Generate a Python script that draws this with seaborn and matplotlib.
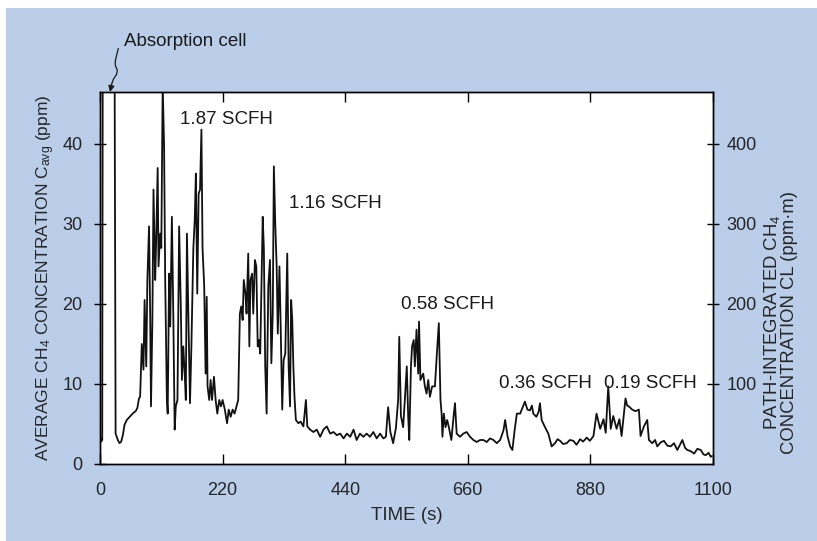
import numpy as np
import pandas as pd
import seaborn as sns
import matplotlib.pyplot as plt
from matplotlib.patches import Rectangle

# time (s) and average CH4 concentration (ppm)
time_s = [0, 2, 4, 5, 26, 28, 32, 35, 38, 41, 44, 48, 52, 56, 60, 64, 67, 70, 72,
          75, 78, 80, 83, 85, 88, 90, 91.5, 94, 96, 99, 100.5, 103.5, 105, 108, 110,
          112.5, 115, 117, 120, 121.5, 124, 126, 129, 131.5, 134, 136, 139, 142, 145,
          147, 149.5, 152, 154, 156, 158.5, 161.5, 164, 167.5, 170, 172, 174.5, 177,
          179.5, 182, 184, 187, 189.5, 191.5, 193, 196, 198.5, 201, 204.5, 207.5,
          210.5, 214, 217, 220, 224, 228, 231, 234.5, 238, 241.5, 245, 248, 251,
          253.5, 256, 258, 261, 263, 266, 268, 270, 273, 275, 278, 280.5, 283, 285,
          287.5, 290, 292, 294, 296.5, 299, 302, 305, 307.5, 310, 312, 314.5, 317,
          319, 322, 324, 327, 329.5, 332.5, 336, 338.5, 341, 343, 345, 347, 349,
          351.5, 356, 360, 365, 369.5, 372, 377, 383, 389, 395, 401, 407, 413, 419,
          425, 431, 437, 443, 449, 455, 460.5, 466.5, 472.5, 478.5, 484.5, 490.5,
          496.5, 502.5, 508.5, 513, 517, 521, 526, 531, 535, 537, 540, 544, 547,
          550.5, 553, 555, 558, 560, 563, 565, 568, 571, 572.5, 575, 580, 583, 586,
          589, 592, 596, 601, 604.5, 608, 611, 613, 614.5, 617, 620, 623, 626, 630.5,
          635, 637, 640, 646, 652, 658, 664, 670, 676, 682, 688, 694, 700, 706, 712,
          718, 724, 727, 731.5, 736, 740, 744, 748, 754, 758, 762.5, 767, 771.5, 775,
          777.5, 783, 787, 789.5, 792.5, 798.5, 804.5, 810.5, 816.5, 821, 825.5, 831,
          837.5, 843, 849.5, 855, 861.5, 867, 873.5, 879, 885.5, 891, 897.5, 903.5,
          907.5, 912, 916.5, 921, 927, 932, 936, 943, 946, 949, 955, 961, 967, 970,
          976, 982, 985, 991, 996, 1000, 1006, 1012, 1018, 1024, 1030, 1036, 1045,
          1050, 1054, 1060, 1066, 1072, 1078, 1083, 1087, 1092, 1096, 1098]
conc_ppm = [3.5, 2.8, 3.0, 55, 55, 3.8, 3.0, 2.6, 2.8, 3.6, 4.9, 5.5, 5.8, 6.1, 6.4, 6.6, 7.0, 8.2, 8.4,
            15, 11.8, 20.5, 12.2, 23, 29.7, 18.8, 7.2, 18, 34.3, 23, 27, 37, 24.7, 28.8, 27,
            47.5, 39.7, 23, 8, 6.3, 23.8, 17.2, 30.9, 18.8, 4.3, 7.2, 8, 29.7, 19.7,
            10.5, 14.7, 11.3, 8, 28.8, 18.8, 7.6, 14.7, 27, 30.5, 36.3, 21.3, 33.8,
            34.3, 41.8, 27, 22.2, 11.3, 20.9, 9.7, 8, 10.5, 8, 10.9, 8,
            6.3, 8, 7.2, 8, 6.8, 5.1, 6.8, 5.9, 6.8, 6.3, 7.2, 8, 18.8,
            19.7, 18, 23, 21.3, 18.8, 26.3, 14.7, 23, 23.8, 18.8, 25.5, 24.7, 14.7, 15.5,
            13.8, 23, 30.9, 27, 12.2, 6.3, 22.2, 25.5, 12.6, 18.8, 37.2, 30, 24.7,
            16.3, 24.7, 18, 6.8, 13, 13.8, 26.3, 12.2, 7.2, 20.5, 18, 12.2, 8.4,
            5.5, 5.1, 5.3, 4.7, 8, 4.7, 4.3, 4, 4.3, 3.4, 4.3, 4.7, 3.8, 4,
            3.6, 3.8, 3.2, 3.8, 3.4, 4.3, 3.0, 3.8, 3.4, 3.8, 3.4, 4,
            3.2, 3.8, 3.2, 3.4, 7.1, 4.0, 2.6, 4.5, 8, 15.9, 6, 4.6, 8,
            12.2, 6, 3, 12.2, 14.7, 15.5, 12.2, 16.8, 11.3, 17.8, 10.5, 11.3, 9.7, 8.8,
            10.5, 8.4, 9.7, 9.7, 13.8, 17.6, 8, 6.3, 3.4, 6.3, 4.6, 5.5, 4.6, 3,
            6.3, 7.6, 3.8, 3.4, 3.8, 4, 3.4, 3, 2.75, 3, 3, 2.75, 3.2, 3, 2.6,
            3, 4.2, 5.5, 3.4, 2.2, 1.75, 4.2, 6.3, 6.3, 7.0, 7.8, 6.8, 6.7, 7.3,
            6.3, 5.9, 6.5, 7.6, 5.5, 4.6, 3.8, 2.2, 2.6, 3.1, 2.9, 2.5,
            2.6, 3.0, 2.9, 2.4, 3.1, 2.8, 3.3, 2.9, 3.5, 6.3, 4.4, 5.6,
            3.9, 9.7, 4.4, 6, 4.4, 5.6, 3.5, 8.2, 7.3, 7.2, 6.8, 6.6, 6.8, 3.5,
            4.7, 5.5, 3, 2.6, 3.0, 2.2, 2.7, 2.9, 2.3, 2.2, 2.6, 1.75, 3,
            2.0, 1.75, 1.6, 1.3, 1.9, 1.75, 1.2, 1.1, 1.4, 0.9, 1.0]

leak_labels = ["1.87 SCFH", "1.16 SCFH", "0.58 SCFH", "0.36 SCFH", "0.19 SCFH"]
leak_label_t = [226, 423, 623, 799, 987]
leak_label_v = [43.1, 32.5, 19.9, 10.1, 10.1]

x_ticks = [0, 220, 440, 660, 880, 1100]
left_ticks = [0, 10, 20, 30, 40]
right_ticks = [100, 200, 300, 400]

df = pd.DataFrame({"time": time_s, "conc": conc_ppm})

sns.set_style("ticks")
plt.rcParams["font.family"] = ["Liberation Sans", "DejaVu Sans"]
plt.rcParams["mathtext.fontset"] = "custom"
plt.rcParams["mathtext.rm"] = "Liberation Sans"
plt.rcParams["mathtext.it"] = "Liberation Sans"

blue = "#bacde9"
fig = plt.figure(figsize=(8.17, 5.41), dpi=100)
fig.patch.set_facecolor("white")
fig.patches.append(Rectangle((6 / 817, 0), 1, (541 - 8) / 541, transform=fig.transFigure,
                             facecolor=blue, edgecolor="none", zorder=-10))

ax = fig.add_axes([100 / 817, (541 - 464) / 541, 613 / 817, 372 / 541])
ax.set_facecolor("white")
sns.lineplot(data=df, x="time", y="conc", ax=ax, color="#111111", linewidth=1.3,
             estimator=None, sort=False)

ymax = 46.5
ax.set_xlim(0, 1100)
ax.set_ylim(0, ymax)
ax.set_xticks(x_ticks)
ax.set_yticks(left_ticks)
ax.tick_params(axis="x", direction="in", length=7, width=1, pad=13, labelsize=13,
               top=True, color="black")
ax.tick_params(axis="y", direction="inout", length=9, width=1, pad=8, labelsize=13,
               color="black")
for s in ax.spines.values():
    s.set_color("black")
    s.set_linewidth(1.0)
ax.set_xlabel("TIME (s)", fontsize=13.5, labelpad=6)
ax.set_ylabel("AVERAGE CH$_4$ CONCENTRATION C$_{avg}$ (ppm)", fontsize=12.5, labelpad=4)

ax2 = ax.twinx()
ax2.set_ylim(0, ymax * 10)
ax2.set_yticks(right_ticks)
ax2.tick_params(axis="y", direction="inout", length=9, width=1, pad=5, labelsize=13,
                color="black")
for s in ax2.spines.values():
    s.set_color("black")
    s.set_linewidth(1.0)
fig.text(780 / 817, (541 - 322) / 541,
         "PATH-INTEGRATED CH$_4$\nCONCENTRATION CL (ppm\u00b7m)",
         rotation=90, ha="center", va="center", fontsize=13.3, multialignment="center",
         linespacing=1.0)

for lab, t, v in zip(leak_labels, leak_label_t, leak_label_v):
    ax.text(t, v, lab, ha="center", va="center", fontsize=13.5, color="#1a1a1a")

# absorption cell callout with a wavy leader
fig.text(124 / 817, (541 - 41) / 541, "Absorption cell", ha="left", va="center",
         fontsize=13.5, color="#1a1a1a")
wx = np.array([118.3, 116.8, 115.2, 115.5, 117.3, 116.5, 113.5, 112.0]) / 817
wy = (541 - np.array([48.5, 54.5, 61.5, 66.0, 70.0, 74.5, 79.0, 83.0])) / 541
fig.add_artist(plt.Line2D(wx, wy, color="#1a1a1a", linewidth=0.9, transform=fig.transFigure))
ax.annotate("", xy=(110 / 817, (541 - 92) / 541), xycoords="figure fraction",
            xytext=(112.0 / 817, (541 - 83) / 541), textcoords="figure fraction",
            arrowprops=dict(arrowstyle="-|>", color="#1a1a1a", lw=0.9,
                            mutation_scale=9, shrinkA=0, shrinkB=0),
            annotation_clip=False)

fig.savefig("out.png", dpi=100, facecolor=fig.get_facecolor())
